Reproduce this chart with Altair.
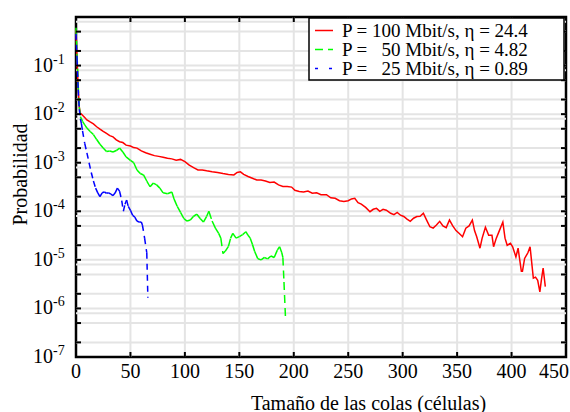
import altair as alt
import pandas as pd

FONT = "Liberation Serif, Times New Roman, DejaVu Serif, serif"

# P = 100 Mbit/s (red)
red_x = [0, 1, 2, 3, 4, 6, 8, 10, 13, 16, 19, 22, 25, 28, 31, 34, 37, 40, 43, 46,
         50, 53, 56, 60, 64, 68, 72, 76, 80, 84, 88, 92, 96, 100, 104, 108, 112, 116,
         120, 125, 130, 135, 140, 145, 148, 151, 154, 158, 162, 166, 170, 174, 178,
         182, 186, 190, 194, 198, 201, 205, 209, 213, 217, 221, 225, 230, 234, 238,
         242, 246, 250, 253, 256, 259, 262, 266, 270, 273, 276, 279, 282, 285, 289,
         292, 295, 298, 301, 304, 307, 310, 313, 316, 319, 322, 325, 328, 331, 334,
         337, 340, 343, 346, 349, 352, 355, 358, 361, 364, 366, 368, 371, 373, 376,
         379, 382, 383.5, 386, 389, 392, 394, 396, 399, 401, 404, 406, 409, 410, 412,
         415, 417, 420, 422, 424, 426, 427.5, 429, 431]
red_p = [5.5e-1, 1.3e-1, 3.5e-2, 1.4e-2, 1.05e-2, 9.5e-3, 8.5e-3, 7.6e-3, 6.9e-3, 6.3e-3,
         5.5e-3, 4.9e-3, 4.4e-3, 4.0e-3, 3.6e-3, 3.4e-3, 2.95e-3, 2.7e-3, 2.6e-3, 2.3e-3,
         2.2e-3, 2.05e-3, 2.0e-3, 1.75e-3, 1.6e-3, 1.5e-3, 1.4e-3, 1.35e-3, 1.3e-3, 1.23e-3,
         1.2e-3, 1.12e-3, 1.17e-3, 1.05e-3, 8.9e-4, 7.9e-4, 7.1e-4, 7.1e-4,
         6.8e-4, 6.5e-4, 6.3e-4, 6.0e-4, 5.75e-4, 5.6e-4, 6.3e-4, 6.5e-4, 5.75e-4, 5.2e-4,
         4.8e-4, 4.4e-4, 4.4e-4, 4.2e-4, 3.9e-4,
         4.0e-4, 3.5e-4, 3.25e-4, 3.25e-4, 3.15e-4, 2.7e-4, 2.55e-4, 2.5e-4, 2.6e-4, 2.35e-4,
         2.4e-4, 2.2e-4, 2.2e-4, 1.9e-4, 1.85e-4,
         1.65e-4, 1.6e-4, 1.65e-4, 1.8e-4, 1.85e-4, 1.5e-4, 1.4e-4, 1.2e-4, 9.8e-5, 1.1e-4,
         1.15e-4, 1.0e-4, 1.1e-4, 1.05e-4, 9.1e-5,
         8.5e-5, 9.5e-5, 8.3e-5, 7.8e-5, 6.9e-5, 6.2e-5, 7.2e-5, 7.8e-5, 7.9e-5, 9.1e-5,
         6.6e-5, 4.8e-5, 4.5e-5, 5.2e-5, 6.2e-5,
         5.0e-5, 4.6e-5, 6.6e-5, 5.0e-5, 4.0e-5, 3.5e-5, 3.0e-5, 4.5e-5, 5.0e-5, 6.6e-5,
         4.0e-5, 3.0e-5, 1.74e-5, 2.8e-5, 4.7e-5,
         3.2e-5, 3.2e-5, 1.86e-5, 2.8e-5, 4.1e-5, 6.0e-5, 2.8e-5, 2.0e-5, 2.2e-5, 1.86e-5,
         1.15e-5, 1.74e-5, 5.8e-6, 5.8e-6, 1.07e-5,
         1.4e-5, 1.86e-5, 4.2e-6, 4.4e-6, 3.8e-6, 2.2e-6, 4.0e-6, 6.8e-6, 2.8e-6]

# P = 50 Mbit/s (green)
green_x = [0, 1, 2, 3, 4, 6, 8, 10, 13, 16, 19, 22, 25, 28, 31, 34, 37, 40, 43, 46, 50,
           53, 56, 59, 62, 65, 68, 71, 74, 77, 80, 84, 88, 90, 93, 96, 99, 102, 105, 108,
           111, 114, 117, 120, 122, 125, 128, 131, 133, 135, 137, 140, 142, 144, 147, 150,
           153, 156, 158, 160, 162, 164, 167, 170, 173, 176, 179, 182, 185, 187, 189, 190,
           191, 192.5]
green_p = [6.0e-1, 1.6e-1, 4.0e-2, 1.4e-2, 8.9e-3, 7.1e-3, 6.0e-3, 5.2e-3, 4.4e-3, 3.8e-3,
           3.0e-3, 2.4e-3, 2.0e-3, 1.7e-3, 1.74e-3, 1.66e-3, 1.78e-3, 2.0e-3, 1.66e-3, 1.32e-3,
           1.12e-3, 1.0e-3, 7.1e-4, 6.0e-4, 5.6e-4, 4.2e-4, 3.2e-4, 3.8e-4, 3.5e-4, 3.0e-4,
           2.4e-4, 2.3e-4, 2.5e-4, 1.8e-4, 1.26e-4, 9.5e-5, 7.1e-5, 6.3e-5, 6.6e-5, 7.9e-5,
           8.7e-5, 7.1e-5, 6.0e-5, 7.9e-5, 1.0e-4, 6.3e-5, 4.5e-5, 3.5e-5, 2.8e-5, 1.35e-5,
           1.5e-5, 1.9e-5, 2.8e-5, 3.5e-5, 2.8e-5, 3.0e-5,
           3.3e-5, 3.8e-5, 3.2e-5, 2.8e-5, 2.1e-5, 1.5e-5, 1.05e-5, 1.0e-5, 1.12e-5, 1.05e-5,
           1.2e-5, 1.12e-5, 1.6e-5, 1.86e-5, 1.4e-5, 1.12e-5,
           3.5e-6, 5.6e-7]

# P = 25 Mbit/s (blue)
blue_x = [0, 1, 2, 3, 4, 5, 6, 8, 10, 12, 14, 16, 18, 20, 22, 24, 26, 28, 30, 32, 34, 36,
          38, 40, 42, 43.5, 45, 46.5, 48, 50, 52, 54, 56, 58, 60, 61, 63, 65, 66]
blue_p = [4.5e-1, 1.3e-1, 3.2e-2, 1.26e-2, 8.0e-3, 6.3e-3, 4.5e-3, 2.5e-3, 1.6e-3, 1.0e-3,
          6.3e-4, 4.2e-4, 3.0e-4, 2.4e-4, 2.0e-4, 2.4e-4, 2.5e-4, 2.35e-4, 2.4e-4, 2.25e-4,
          2.1e-4, 2.4e-4, 3.0e-4, 2.6e-4, 1.66e-4, 1.0e-4, 1.4e-4, 1.7e-4, 1.26e-4, 1.05e-4,
          8.3e-5, 7.6e-5, 6.3e-5, 6.0e-5, 6.0e-5, 5.2e-5, 2.8e-5, 1.4e-5, 1.66e-6]

x_ticks = [0, 50, 100, 150, 200, 250, 300, 350, 400, 450]
y_decades = [1e-1, 1e-2, 1e-3, 1e-4, 1e-5, 1e-6, 1e-7]
y_exps = ["-1", "-2", "-3", "-4", "-5", "-6", "-7"]
y_minor_ticks = [m * 10.0 ** e for e in range(-7, 0) for m in (2, 5)] + [10.0 ** e for e in range(-6, 0)]
y_grid = y_minor_ticks + [8 * 10.0 ** e for e in range(-7, 0)]

legend_labels = ["P = 100 Mbit/s, \u03b7 = 24.4",
                 "P =\u00a0\u00a0\u00a050 Mbit/s, \u03b7 = 4.82",
                 "P =\u00a0\u00a0\u00a025 Mbit/s, \u03b7 = 0.89"]
legend_colors = ["#ff0000", "#00ff00", "#0000ff"]

xs = alt.Scale(domain=[0, 450], nice=False, zero=False)
ys = alt.Scale(type="log", domain=[1e-7, 1], nice=False)

xaxis = alt.Axis(labels=False, ticks=False, tickSize=0, domain=False, grid=False,
                 title="Tamaño de las colas (células)", titleFont=FONT, titleFontSize=20,
                 titleFontWeight="normal", titleColor="black", titleX=292, titleY=46,
                 titleAlign="center", titleBaseline="middle")
yaxis = alt.Axis(labels=False, ticks=False, tickSize=0, domain=False, grid=False,
                 title="Probabilidad", titleFont=FONT, titleFontSize=20,
                 titleFontWeight="normal", titleColor="black", titleX=-56, titleY=157,
                 titleAngle=270, titleAlign="center", titleBaseline="middle")


def X(f):
    return alt.X(f, type="quantitative", scale=xs, axis=xaxis)


def Y(f):
    return alt.Y(f, type="quantitative", scale=ys, axis=yaxis)


def segments(xv, pv):
    return pd.DataFrame({"x": xv[:-1], "p": pv[:-1], "x2": xv[1:], "p2": pv[1:]})


GRID = "#e4e4e4"
grid_v = alt.Chart(pd.DataFrame({"x": x_ticks[1:-1]})).mark_rule(color=GRID, strokeWidth=2).encode(x=X("x"))
grid_h = alt.Chart(pd.DataFrame({"p": y_grid})).mark_rule(color=GRID, strokeWidth=2).encode(y=Y("p"))

red = alt.Chart(pd.DataFrame({"x": red_x, "p": red_p})).mark_line(
    color="#ff0000", strokeWidth=1.5).encode(x=X("x"), y=Y("p"))
green = alt.Chart(segments(green_x, green_p)).mark_rule(
    color="#00ff00", strokeWidth=1.5, strokeDash=[8, 5]).encode(
    x=X("x"), y=Y("p"), x2="x2:Q", y2="p2:Q")
blue = alt.Chart(segments(blue_x, blue_p)).mark_rule(
    color="#0000ff", strokeWidth=1.5, strokeDash=[6, 5]).encode(
    x=X("x"), y=Y("p"), x2="x2:Q", y2="p2:Q")

xt = pd.DataFrame({"x": x_ticks[1:-1]})
yt = pd.DataFrame({"p": y_minor_ticks})
tick_b = alt.Chart(xt).mark_rule(color="black", strokeWidth=2).encode(x=X("x"), y=alt.value(340), y2=alt.value(335))
tick_t = alt.Chart(xt).mark_rule(color="black", strokeWidth=2).encode(x=X("x"), y=alt.value(0), y2=alt.value(5))
tick_l = alt.Chart(yt).mark_rule(color="black", strokeWidth=2).encode(y=Y("p"), x=alt.value(0), x2=alt.value(5))
tick_r = alt.Chart(yt).mark_rule(color="black", strokeWidth=2).encode(y=Y("p"), x=alt.value(490), x2=alt.value(485))

xl = pd.DataFrame({"x": x_ticks[:-1], "lab": [str(v) for v in x_ticks[:-1]]})
xl_last = pd.DataFrame({"x": x_ticks[-1:], "lab": [str(x_ticks[-1])]})
xlab = alt.Chart(xl).mark_text(font=FONT, fontSize=20, align="center", baseline="top", color="black").encode(
    x=X("x"), y=alt.value(345), text="lab:N")
xlab_last = alt.Chart(xl_last).mark_text(font=FONT, fontSize=20, align="right", baseline="top", color="black", dx=3).encode(
    x=X("x"), y=alt.value(345), text="lab:N")

yl = pd.DataFrame({"p": y_decades, "e": y_exps})
ylab = alt.Chart(yl).mark_text(font=FONT, fontSize=20, align="right", baseline="middle", color="black").encode(
    x=alt.value(-23), y=Y("p"), text=alt.value("10"))
yexp = alt.Chart(yl).mark_text(font=FONT, fontSize=14, align="left", baseline="middle", color="black", dy=-6).encode(
    x=alt.value(-23), y=Y("p"), text="e:N")

one = pd.DataFrame({"a": [0]})
leg_box = alt.Chart(one).mark_rect(fill="white", stroke="black", strokeWidth=1.5).encode(
    x=alt.value(233), x2=alt.value(488), y=alt.value(1), y2=alt.value(63))
leg_rows = [13.5, 32.5, 51.5]
leg_dash = [None, [8, 5], [3, 11]]
leg_layers = [leg_box]
for lab, col, dash, yy in zip(legend_labels, legend_colors, leg_dash, leg_rows):
    kw = {"color": col, "strokeWidth": 1.5}
    if dash:
        kw["strokeDash"] = dash
    leg_layers.append(alt.Chart(one).mark_rule(**kw).encode(
        x=alt.value(239), x2=alt.value(257), y=alt.value(yy)))
    leg_layers.append(alt.Chart(one).mark_text(
        font=FONT, fontSize=19, align="left", baseline="middle", color="black").encode(
        x=alt.value(266), y=alt.value(yy), text=alt.value(lab)))

chart = alt.layer(
    grid_v, grid_h, red, green, blue, tick_b, tick_t, tick_l, tick_r,
    *leg_layers, xlab, xlab_last, ylab, yexp
).properties(
    width=490, height=340,
    autosize=alt.AutoSizeParams(type="none"),
    padding={"left": 76, "top": 17, "right": 4, "bottom": 55},
    background="white",
).configure_view(stroke="black", strokeWidth=2.5)

chart.save("out.html", embed_options={"renderer": "svg", "actions": False})
